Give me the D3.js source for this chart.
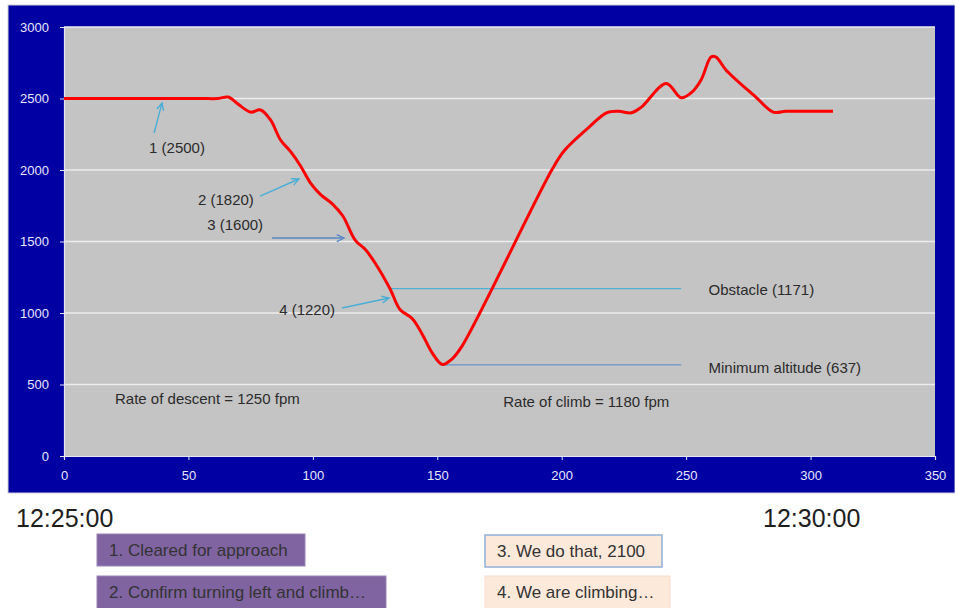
<!DOCTYPE html>
<html>
<head>
<meta charset="utf-8">
<script src="https://cdn.jsdelivr.net/npm/d3@7/dist/d3.min.js"></script>
<style>
  html, body { margin: 0; padding: 0; background: #ffffff; }
  svg { display: block; font-family: "Liberation Sans", Arial, sans-serif; }
</style>
</head>
<body>
<svg id="chart" width="955" height="608"></svg>
<script>
// Flight profile: seconds since 12:25:00 vs. altitude (ft)
const seconds = [0, 20, 40, 55, 62, 66, 70, 75, 79, 83, 87, 91, 95, 99, 103, 108, 112, 117, 121, 125, 131, 135, 140, 144, 148, 152, 156, 160, 196, 201, 211, 218, 223, 228, 232, 242, 248, 252, 256, 260, 262, 266, 278, 285, 290, 300, 309];
const altitude = [2500, 2500, 2500, 2500, 2500, 2510, 2460, 2405, 2420, 2350, 2210, 2130, 2030, 1910, 1830, 1760, 1680, 1510, 1445, 1350, 1170, 1025, 960, 850, 720, 640, 680, 770, 2000, 2135, 2300, 2400, 2410, 2400, 2440, 2605, 2505, 2540, 2630, 2790, 2790, 2700, 2510, 2405, 2410, 2410, 2410];

// Axis ticks
const xTicks = [0, 50, 100, 150, 200, 250, 300, 350];
const yTicks = [0, 500, 1000, 1500, 2000, 2500, 3000];

// Reference levels
const refNames = ["Obstacle (1171)", "Minimum altitude (637)"];
const refAltitude = [1171, 637];
const refStart = [131, 152];
const refEnd = [248, 248];

// Numbered call-outs: label, arrow tail and head (seconds, ft), label anchor
const calloutLabels = ["1 (2500)", "2 (1820)", "3 (1600)", "4 (1220)"];
const calloutTail = [[36.2, 2259], [78.8, 1818], [83.6, 1524], [111.7, 1035]];
const calloutHead = [[39.4, 2469], [94.4, 1937], [112.5, 1524], [130.6, 1105]];
const calloutText = [[45.4, 2120], [76.3, 1755], [80.0, 1580], [108.9, 985]];

// Rate notes
const rateNotes = ["Rate of descent = 1250 fpm", "Rate of climb = 1180 fpm"];
const rateAt = [[20.5, 365], [176.5, 343]];

// Time stamps and radio messages
const timeLabels = ["12:25:00", "12:30:00"];
const messages = ["1. Cleared for approach", "2. Confirm turning left and climb…", "3. We do that, 2100", "4. We are climbing…"];

const svg = d3.select("#chart");

const panel = { x: 8, y: 5, w: 947, h: 488 };
const plot = { left: 64, top: 27, right: 935, bottom: 456 };

const x = d3.scaleLinear().domain([0, 350]).range([plot.left, plot.right]);
const y = d3.scaleLinear().domain([0, 3000]).range([plot.bottom, plot.top]);

// Blue chart panel and grey plot area
svg.append("rect")
  .attr("x", panel.x).attr("y", panel.y)
  .attr("width", panel.w).attr("height", panel.h)
  .attr("fill", "#0000a3").attr("stroke", "#cfcfd8").attr("stroke-width", 1);

svg.append("rect")
  .attr("x", plot.left).attr("y", plot.top)
  .attr("width", plot.right - plot.left).attr("height", plot.bottom - plot.top)
  .attr("fill", "#c4c4c4");

// Horizontal gridlines
svg.append("g").selectAll("line")
  .data(yTicks.filter(d => d > 0))
  .join("line")
  .attr("x1", plot.left).attr("x2", plot.right)
  .attr("y1", d => y(d)).attr("y2", d => y(d))
  .attr("stroke", "#ececec").attr("stroke-width", 1.5);

// Axes
const yAxis = svg.append("g")
  .attr("transform", `translate(${plot.left},0)`)
  .call(d3.axisLeft(y).tickValues(yTicks).tickSize(4).tickPadding(11).tickFormat(d3.format("d")));
const xAxis = svg.append("g")
  .attr("transform", `translate(0,${plot.bottom})`)
  .call(d3.axisBottom(x).tickValues(xTicks).tickSize(4).tickPadding(11).tickFormat(d3.format("d")));

[yAxis, xAxis].forEach(g => {
  g.select(".domain").attr("stroke", "#e4e4f4").attr("stroke-width", 1.2);
  g.selectAll(".tick line").attr("stroke", "#e4e4f4");
  g.selectAll(".tick text")
    .attr("fill", "#e8e8ff")
    .attr("font-size", 13)
    .attr("font-family", "Liberation Sans, Arial, sans-serif");
});

// Reference lines
const refColors = ["#4fb0d4", "#6a92cc"];
svg.append("g").selectAll("line")
  .data(refAltitude)
  .join("line")
  .attr("x1", (d, i) => x(refStart[i])).attr("x2", (d, i) => x(refEnd[i]))
  .attr("y1", d => y(d)).attr("y2", d => y(d))
  .attr("stroke", (d, i) => refColors[i]).attr("stroke-width", 1.3);

svg.append("g").selectAll("text")
  .data(refNames)
  .join("text")
  .attr("x", x(259))
  .attr("y", (d, i) => y(refAltitude[i]) + (i === 0 ? 6 : 8))
  .attr("font-size", 15)
  .attr("fill", "#2b2b2b")
  .text(d => d);

// Altitude trace
const profile = seconds.map((s, i) => [s, altitude[i]]);
svg.append("path")
  .datum(profile)
  .attr("fill", "none")
  .attr("stroke", "#ff0000")
  .attr("stroke-width", 3)
  .attr("stroke-linejoin", "round")
  .attr("d", d3.line().x(d => x(d[0])).y(d => y(d[1])).curve(d3.curveCatmullRom.alpha(0.5)));

// Call-out arrows
const arrowColors = ["#4aaed6", "#4aaed6", "#5a88c6", "#4aaed6"];
const arrows = svg.append("g");
calloutLabels.forEach((lab, i) => {
  const x0 = x(calloutTail[i][0]), y0 = y(calloutTail[i][1]);
  const x1 = x(calloutHead[i][0]), y1 = y(calloutHead[i][1]);
  const ang = Math.atan2(y1 - y0, x1 - x0);
  const len = 8, spread = 0.45;
  const ax = x1 - len * Math.cos(ang - spread), ay = y1 - len * Math.sin(ang - spread);
  const bx = x1 - len * Math.cos(ang + spread), by = y1 - len * Math.sin(ang + spread);
  arrows.append("line")
    .attr("x1", x0).attr("y1", y0).attr("x2", x1).attr("y2", y1)
    .attr("stroke", arrowColors[i]).attr("stroke-width", 1.4);
  arrows.append("path")
    .attr("d", `M${ax},${ay}L${x1},${y1}L${bx},${by}`)
    .attr("fill", "none").attr("stroke", arrowColors[i]).attr("stroke-width", 1.4);
  arrows.append("text")
    .attr("x", x(calloutText[i][0])).attr("y", y(calloutText[i][1]))
    .attr("text-anchor", i === 0 ? "middle" : "end")
    .attr("font-size", 15)
    .attr("fill", "#2b2b2b")
    .text(lab);
});

// Rate notes
svg.append("g").selectAll("text")
  .data(rateNotes)
  .join("text")
  .attr("x", (d, i) => x(rateAt[i][0]))
  .attr("y", (d, i) => y(rateAt[i][1]))
  .attr("font-size", 15)
  .attr("fill", "#2b2b2b")
  .text(d => d);

// Time stamps under the chart
svg.append("g").selectAll("text")
  .data(timeLabels)
  .join("text")
  .attr("x", (d, i) => i === 0 ? 16 : 763)
  .attr("y", 527)
  .attr("font-size", 25)
  .attr("fill", "#1e1e1e")
  .text(d => d);

// Message boxes
const boxes = [
  { x: 97, y: 534, w: 208, h: 32, fill: "#8064a2", stroke: "#9a84b8" },
  { x: 97, y: 576, w: 289, h: 40, fill: "#8064a2", stroke: "#9a84b8" },
  { x: 485, y: 535, w: 177, h: 32, fill: "#fde9d9", stroke: "#8fb0d8" },
  { x: 485, y: 576, w: 185, h: 40, fill: "#fde9d9", stroke: "#f6dccb" }
];
const msg = svg.append("g");
messages.forEach((m, i) => {
  const b = boxes[i];
  msg.append("rect")
    .attr("x", b.x).attr("y", b.y).attr("width", b.w).attr("height", b.h)
    .attr("fill", b.fill).attr("stroke", b.stroke).attr("stroke-width", i === 2 ? 1.5 : 1);
  msg.append("text")
    .attr("x", b.x + 12).attr("y", b.y + 22)
    .attr("font-size", 17)
    .attr("fill", "#333333")
    .text(m);
});
</script>
</body>
</html>
